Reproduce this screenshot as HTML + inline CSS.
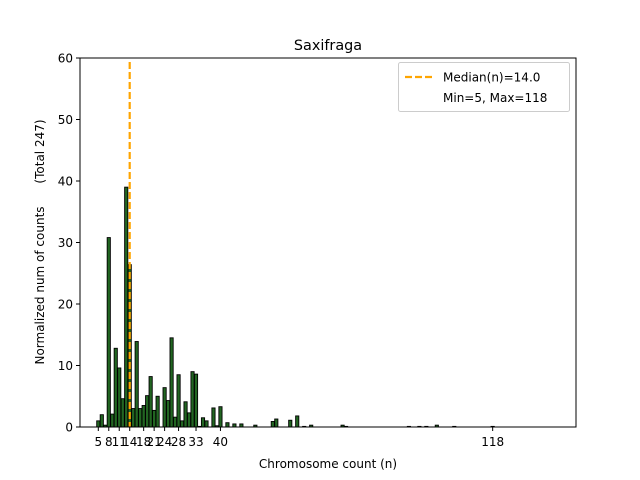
<!DOCTYPE html>
<html><head><meta charset="utf-8"><style>
html,body{margin:0;padding:0;background:#fff;}
svg{display:block;font-family:"DejaVu Sans","Liberation Sans",sans-serif;}
</style></head><body>
<svg id="s" width="640" height="480" viewBox="0 0 640 480" xmlns="http://www.w3.org/2000/svg">
<rect width="640" height="480" fill="#fff"/>
<g id="bars"></g>
<line x1="129.7" y1="62" x2="129.7" y2="427" stroke="#ffa500" stroke-width="2.2" stroke-dasharray="7,3"/>
<rect x="80" y="58" width="496" height="369" fill="none" stroke="#000" stroke-width="1"/>
<g id="yt" font-size="12" text-anchor="end"></g>
<g id="xt" font-size="12" text-anchor="middle"></g>
<text x="328" y="50" font-size="14.4" text-anchor="middle">Saxifraga</text>
<text x="328" y="468" font-size="12" text-anchor="middle">Chromosome count (n)</text>
<text transform="translate(44,242) rotate(-90)" font-size="12" text-anchor="middle" xml:space="preserve">Normalized num of counts      (Total 247)</text>
<rect x="398.5" y="62.5" width="171" height="49" rx="2" fill="#fff" stroke="#ccc"/>
<line x1="405" y1="77" x2="433" y2="77" stroke="#ffa500" stroke-width="2.2" stroke-dasharray="7,3"/>
<text x="443" y="81.5" font-size="12">Median(n)=14.0</text>
<text x="443" y="102" font-size="12">Min=5, Max=118</text>
</svg>
<script>
var NS="http://www.w3.org/2000/svg";
function u(n){return 80.85+3.49*n;}
function y(v){return 427-v*6.15;}
var d={5:1.0,6:2.0,7:0.3,8:30.8,9:2.1,10:12.8,11:9.6,12:4.6,13:39,14:26.4,15:3.0,16:13.9,17:3.0,18:3.5,19:5.1,20:8.2,21:2.7,22:5.0,24:6.4,25:4.3,26:14.5,27:1.6,28:8.5,29:1.0,30:4.1,31:2.3,32:9.0,33:8.6,34:0.1,35:1.5,36:1.0,38:3.1,39:0.2,40:3.3,42:0.7,44:0.5,46:0.5,50:0.3,55:0.9,56:1.3,60:1.1,62:1.8,64:0.1,66:0.3,75:0.3,76:0.1,94:0.1,97:0.1,99:0.1,102:0.3,107:0.1,118:0.1};
var g=document.getElementById("bars");
for(var k in d){var n=+k,v=d[k];var r=document.createElementNS(NS,"rect");
r.setAttribute("x",u(n)-1.6);r.setAttribute("y",y(v));r.setAttribute("width",3.2);r.setAttribute("height",v*6.15);
r.setAttribute("fill","#226622");r.setAttribute("stroke","#000");r.setAttribute("stroke-width","0.9");g.appendChild(r);}
var yt=document.getElementById("yt");
for(var i=0;i<=60;i+=10){var yy=y(i);
var l=document.createElementNS(NS,"line");l.setAttribute("x1",76);l.setAttribute("x2",80);l.setAttribute("y1",yy);l.setAttribute("y2",yy);l.setAttribute("stroke","#000");yt.appendChild(l);
var t=document.createElementNS(NS,"text");t.setAttribute("x",73);t.setAttribute("y",yy+4.5);t.textContent=i;yt.appendChild(t);}
var xt=document.getElementById("xt");
[5,8,11,14,18,21,24,28,33,40,118].forEach(function(n){var xx=u(n);
var l=document.createElementNS(NS,"line");l.setAttribute("x1",xx);l.setAttribute("x2",xx);l.setAttribute("y1",427);l.setAttribute("y2",431);l.setAttribute("stroke","#000");xt.appendChild(l);
var t=document.createElementNS(NS,"text");t.setAttribute("x",xx);t.setAttribute("y",446);t.textContent=n;xt.appendChild(t);});
</script>
</body></html>
